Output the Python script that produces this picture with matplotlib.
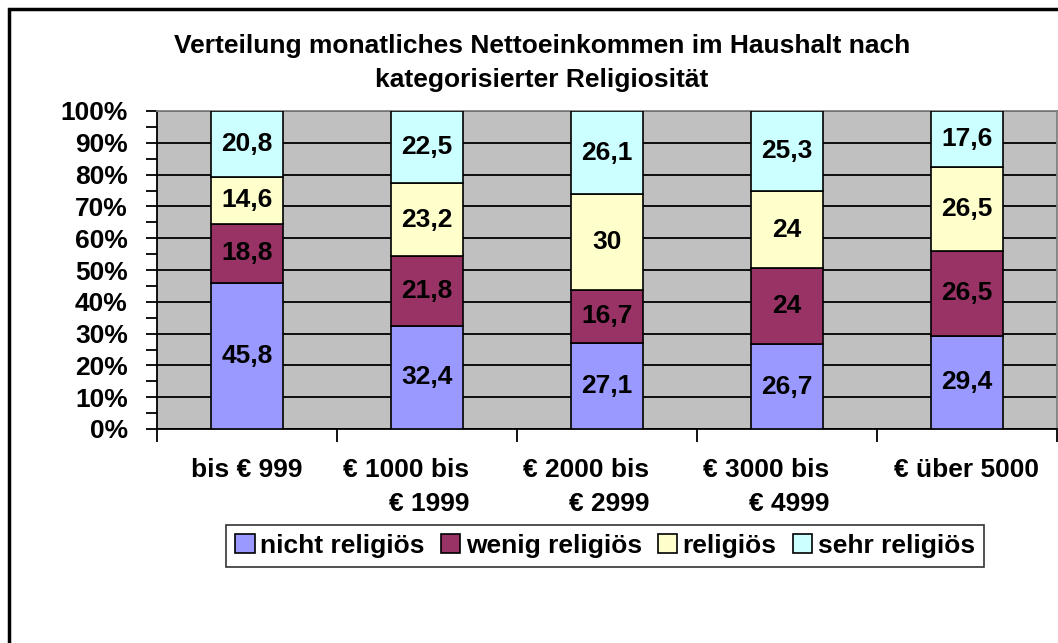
import matplotlib
matplotlib.use("Agg")
import matplotlib.pyplot as plt
import matplotlib.transforms as mtransforms
from matplotlib.patches import Rectangle
from matplotlib.ticker import MultipleLocator, PercentFormatter
import numpy as np

plt.rcParams['font.family'] = ['Liberation Sans', 'DejaVu Sans']
plt.rcParams['font.weight'] = 'bold'

categories = ["bis € 999", "€ 1000 bis\n€ 1999", "€ 2000 bis\n€ 2999",
              "€ 3000 bis\n€ 4999", "€ über 5000"]
series = ["nicht religiös", "wenig religiös", "religiös", "sehr religiös"]
nicht = [45.8, 32.4, 27.1, 26.7, 29.4]
wenig = [18.8, 21.8, 16.7, 24.0, 26.5]
relig = [14.6, 23.2, 30.0, 24.0, 26.5]
sehr = [20.8, 22.5, 26.1, 25.3, 17.6]
colors = ["#9999FF", "#993366", "#FFFFCC", "#CCFFFF"]

title = "Verteilung monatliches Nettoeinkommen im Haushalt nach\nkategorisierter Religiosität"
FS = 19

W, H = 1058, 643
fig = plt.figure(figsize=(W / 100, H / 100), dpi=100)
fig.patch.set_facecolor("white")

# outer chart frame (right/bottom run off the picture)
fig.patches.append(Rectangle((9 / W, -0.1), 1.2, 1 - 9 / H + 0.1, transform=fig.transFigure,
                             fill=False, edgecolor="black", linewidth=2.5))

ax = fig.add_axes([157 / W, 1 - 429 / H, 900 / W, 318 / H])
ax.set_facecolor("#C0C0C0")

data = np.array([nicht, wenig, relig, sehr])
totals = data.sum(axis=0)
x = np.arange(len(categories))
bottom = np.zeros(len(categories))
for vals, name, col in zip(data, series, colors):
    frac = vals / totals
    ax.bar(x, frac, 0.4, bottom=bottom, color=col, edgecolor="black",
           linewidth=1.2, label=name, zorder=3)
    for xi, b, f, v in zip(x, bottom, frac, vals):
        txt = ("%g" % v).replace(".", ",")
        ax.text(xi, b + f / 2, txt, ha="center", va="center", fontsize=FS,
                fontweight="bold", zorder=4)
    bottom += frac

ax.set_xlim(-0.5, len(categories) - 0.5)
ax.set_ylim(0, 1)
ax.yaxis.set_major_locator(MultipleLocator(0.1))
ax.yaxis.set_minor_locator(MultipleLocator(0.05))
ax.yaxis.set_major_formatter(PercentFormatter(1.0, decimals=0))
ax.grid(axis="y", which="major", color="black", linewidth=1.3, zorder=1)
ax.set_axisbelow(True)
ax.tick_params(axis="y", which="both", direction="out", length=8, width=1.3,
               labelsize=FS, pad=13)
ax.tick_params(axis="x", which="both", length=0, labelbottom=False)
ax.set_xticks(np.arange(len(categories) + 1) - 0.5, minor=True)
ax.tick_params(axis="x", which="minor", direction="out", length=9, width=1.3)
for lab in ax.get_yticklabels():
    lab.set_fontweight("bold")

for s in ["left", "bottom"]:
    ax.spines[s].set_color("black")
    ax.spines[s].set_linewidth(1.3)
for s in ["top", "right"]:
    ax.spines[s].set_color("#808080")
    ax.spines[s].set_linewidth(1.3)

# category labels under the axis
shifts = [0, -21, -21, -21, 0]
for xi, cat, sh in zip(x, categories, shifts):
    tr = mtransforms.blended_transform_factory(ax.transData, ax.transAxes)
    tr = tr + mtransforms.ScaledTranslation(sh / 100, 0, fig.dpi_scale_trans)
    ax.text(xi, -0.09, cat, transform=tr, ha="center", va="top",
            multialignment="right", fontsize=FS, fontweight="bold",
            linespacing=1.55)

fig.text(542 / W, 1 - 63 / H, title, ha="center", va="center", fontsize=FS,
         fontweight="bold", linespacing=1.55)

leg = fig.legend(loc="center", bbox_to_anchor=(605 / W, 1 - 546 / H), ncol=4,
                 frameon=True, fancybox=False, handlelength=0.75,
                 handleheight=0.75, handletextpad=0.2, columnspacing=0.6,
                 borderpad=0.35, edgecolor="black", prop={"weight": "bold", "size": FS})
leg.get_frame().set_linewidth(1.2)

fig.savefig("out.png", dpi=100)
